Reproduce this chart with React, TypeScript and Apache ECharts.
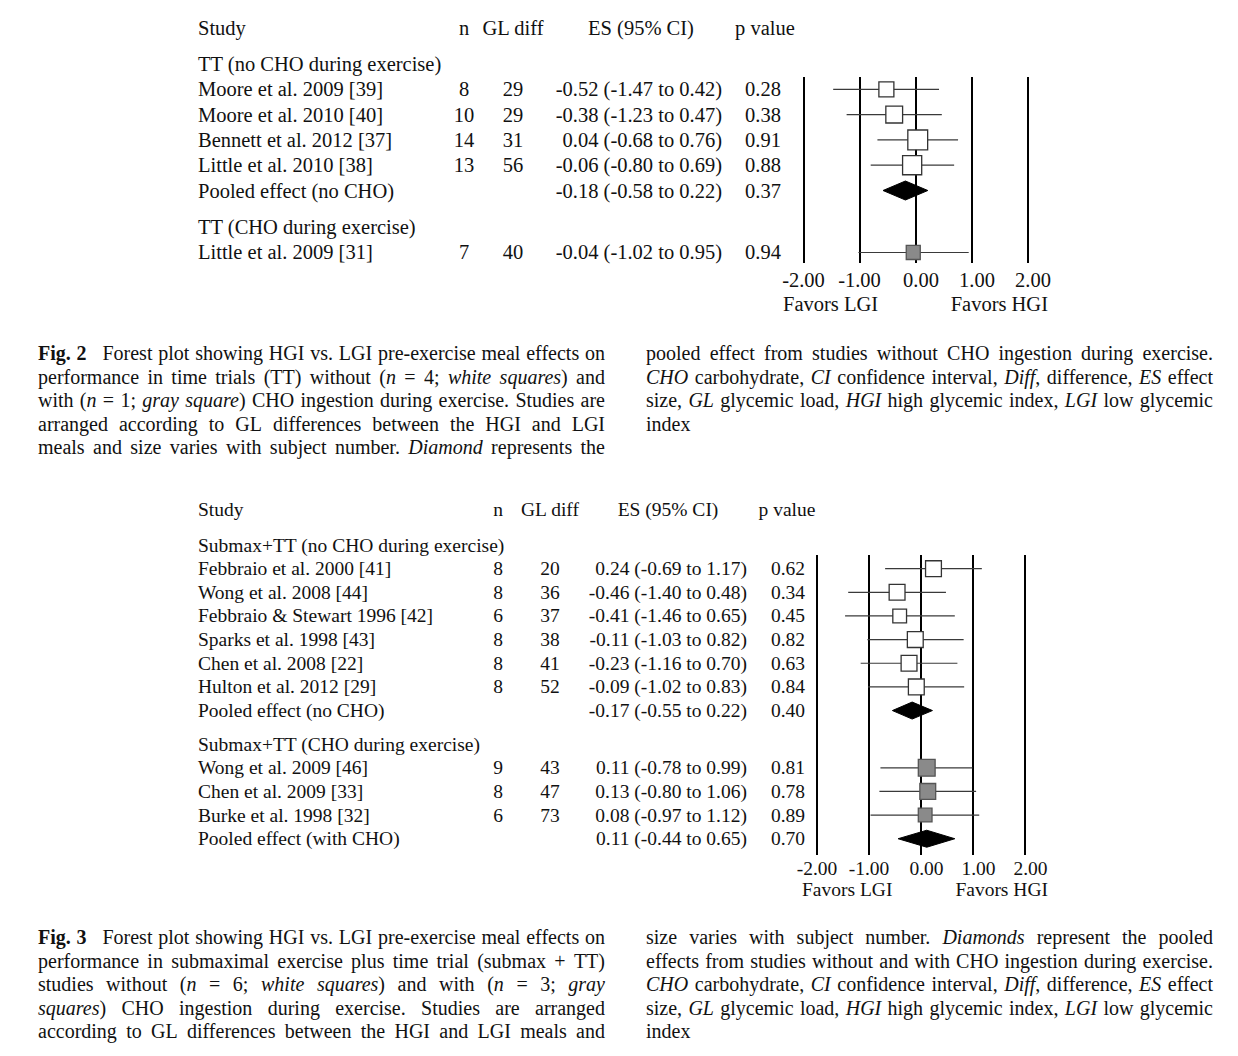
import React, { useEffect, useRef } from 'react';
import * as echarts from 'echarts';

const FONT = '"Liberation Serif", "Times New Roman", serif';
const INK = '#111';

// ---------- Fig. 2 data ----------
const fig2Columns = ['Study', 'n', 'GL diff', 'ES (95% CI)', 'p value'];
const fig2Sections = ['TT (no CHO during exercise)', 'TT (CHO during exercise)'];
const fig2Studies = [
  'Moore et al. 2009 [39]',
  'Moore et al. 2010 [40]',
  'Bennett et al. 2012 [37]',
  'Little et al. 2010 [38]',
  'Pooled effect (no CHO)',
  'Little et al. 2009 [31]',
];
const fig2SectionOf = [0, 0, 0, 0, 0, 1];
const fig2Kind = ['white', 'white', 'white', 'white', 'pooled', 'gray'];
const fig2N = [8, 10, 14, 13, null, 7];
const fig2GL = [29, 29, 31, 56, null, 40];
const fig2ES = [-0.52, -0.38, 0.04, -0.06, -0.18, -0.04];
const fig2Lo = [-1.47, -1.23, -0.68, -0.8, -0.58, -1.02];
const fig2Hi = [0.42, 0.47, 0.76, 0.69, 0.22, 0.95];
const fig2P = [0.28, 0.38, 0.91, 0.88, 0.37, 0.94];

// ---------- Fig. 3 data ----------
const fig3Columns = ['Study', 'n', 'GL diff', 'ES (95% CI)', 'p value'];
const fig3Sections = ['Submax+TT (no CHO during exercise)', 'Submax+TT (CHO during exercise)'];
const fig3Studies = [
  'Febbraio et al. 2000 [41]',
  'Wong et al. 2008 [44]',
  'Febbraio & Stewart 1996 [42]',
  'Sparks et al. 1998 [43]',
  'Chen et al. 2008 [22]',
  'Hulton et al. 2012 [29]',
  'Pooled effect (no CHO)',
  'Wong et al. 2009 [46]',
  'Chen et al. 2009 [33]',
  'Burke et al. 1998 [32]',
  'Pooled effect (with CHO)',
];
const fig3SectionOf = [0, 0, 0, 0, 0, 0, 0, 1, 1, 1, 1];
const fig3Kind = ['white', 'white', 'white', 'white', 'white', 'white', 'pooled', 'gray', 'gray', 'gray', 'pooled'];
const fig3N = [8, 8, 6, 8, 8, 8, null, 9, 8, 6, null];
const fig3GL = [20, 36, 37, 38, 41, 52, null, 43, 47, 73, null];
const fig3ES = [0.24, -0.46, -0.41, -0.11, -0.23, -0.09, -0.17, 0.11, 0.13, 0.08, 0.11];
const fig3Lo = [-0.69, -1.4, -1.46, -1.03, -1.16, -1.02, -0.55, -0.78, -0.8, -0.97, -0.44];
const fig3Hi = [1.17, 0.48, 0.65, 0.82, 0.7, 0.83, 0.22, 0.99, 1.06, 1.12, 0.65];
const fig3P = [0.62, 0.34, 0.45, 0.82, 0.63, 0.84, 0.4, 0.81, 0.78, 0.89, 0.7];

const esAxisMin = -2;
const esAxisMax = 2;
const esAxisStep = 1;
const favorsLabels = ['Favors LGI', 'Favors HGI'];

// ---------- captions ----------
const fig2CaptionLeft = [
  '**Fig.** **2\u2002** Forest plot showing HGI vs. LGI pre-exercise meal effects on',
  'performance in time trials (TT) without (*n* = 4; *white* *squares*) and',
  'with (*n* = 1; *gray* *square*) CHO ingestion during exercise. Studies are',
  'arranged according to GL differences between the HGI and LGI',
  'meals and size varies with subject number. *Diamond* represents the',
];
const fig2CaptionRight = [
  'pooled effect from studies without CHO ingestion during exercise.',
  '*CHO* carbohydrate, *CI* confidence interval, *Diff*, difference, *ES* effect',
  'size, *GL* glycemic load, *HGI* high glycemic index, *LGI* low glycemic',
  'index',
];
const fig3CaptionLeft = [
  '**Fig.** **3\u2002** Forest plot showing HGI vs. LGI pre-exercise meal effects on',
  'performance in submaximal exercise plus time trial (submax + TT)',
  'studies without (*n* = 6; *white* *squares*) and with (*n* = 3; *gray*',
  '*squares*) CHO ingestion during exercise. Studies are arranged',
  'according to GL differences between the HGI and LGI meals and',
];
const fig3CaptionRight = [
  'size varies with subject number. *Diamonds* represent the pooled',
  'effects from studies without and with CHO ingestion during exercise.',
  '*CHO* carbohydrate, *CI* confidence interval, *Diff*, difference, *ES* effect',
  'size, *GL* glycemic load, *HGI* high glycemic index, *LGI* low glycemic',
  'index',
];

// ---------- layout (pixels) ----------
const layout2 = {
  rowY0: 64, pitch: 25.3, sectionGap: 0.45, headGap: 0.42,
  gridLeft: 803.5, gridRight: 1027.5, gridTop: 77, gridBottom: 263,
  fontSize: 20.5,
  colStudy: 198, colN: 464, colGL: 513, colESRight: 722, colESHead: 641, colP: 763, colPHead: 765,
  sq: 5.3, diamondH: 19, labelMargin: 6,
  favorsY: 304, favorsLeft: 783, favorsRight: 1048,
};
const layout3 = {
  rowY0: 545, pitch: 23.65, sectionGap: 0.42, headGap: 0.48,
  gridLeft: 817, gridRight: 1025, gridTop: 555, gridBottom: 855,
  fontSize: 19.5,
  colStudy: 198, colN: 498, colGL: 550, colESRight: 747, colESHead: 668, colP: 788, colPHead: 787,
  sq: 5.6, diamondH: 17, labelMargin: 3,
  favorsY: 889, favorsLeft: 802, favorsRight: 1048,
};
const CAP_SIZE = 20;
const CAP_PITCH = 23.5;

type Fig = {
  columns: string[]; sections: string[]; studies: string[]; sectionOf: number[]; kind: string[];
  n: (number | null)[]; gl: (number | null)[]; es: number[]; lo: number[]; hi: number[]; p: number[];
  L: typeof layout2;
};

const fig2: Fig = {
  columns: fig2Columns, sections: fig2Sections, studies: fig2Studies, sectionOf: fig2SectionOf, kind: fig2Kind,
  n: fig2N, gl: fig2GL, es: fig2ES, lo: fig2Lo, hi: fig2Hi, p: fig2P, L: layout2,
};
const fig3: Fig = {
  columns: fig3Columns, sections: fig3Sections, studies: fig3Studies, sectionOf: fig3SectionOf, kind: fig3Kind,
  n: fig3N, gl: fig3GL, es: fig3ES, lo: fig3Lo, hi: fig3Hi, p: fig3P, L: layout3 as any,
};

function rowPositions(sectionOf: number[], gap: number) {
  const secK: number[] = [];
  const studyK: number[] = [];
  let k = 0;
  let cur = -1;
  sectionOf.forEach((s) => {
    if (s !== cur) {
      if (cur >= 0) k += 1 + gap;
      secK[s] = k;
      cur = s;
    }
    k += 1;
    studyK.push(k);
  });
  return { secK, studyK };
}

function textEl(x: number, y: number, text: string, size: number, align: string, extra: any = {}) {
  return {
    type: 'text',
    x,
    y,
    silent: true,
    style: {
      text,
      fill: INK,
      fontSize: size,
      fontFamily: FONT,
      fontStyle: extra.italic ? 'italic' : 'normal',
      fontWeight: extra.bold ? 'bold' : 'normal',
      align,
      textAlign: align,
      verticalAlign: 'middle',
      textVerticalAlign: 'middle',
    },
  };
}

function buildFigure(f: Fig, gi: number) {
  const L = f.L;
  const { secK, studyK } = rowPositions(f.sectionOf, L.sectionGap);
  const fmt = (v: number) => v.toFixed(2);

  type Cell = { text: string; x: number; align: string };
  const rows: { k: number; cells: Cell[] }[] = [];
  rows.push({
    k: -(1 + L.headGap),
    cells: [
      { text: f.columns[0], x: L.colStudy, align: 'left' },
      { text: f.columns[1], x: L.colN, align: 'center' },
      { text: f.columns[2], x: L.colGL, align: 'center' },
      { text: f.columns[3], x: L.colESHead, align: 'center' },
      { text: f.columns[4], x: L.colPHead, align: 'center' },
    ],
  });
  f.sections.forEach((s, i) => rows.push({ k: secK[i], cells: [{ text: s, x: L.colStudy, align: 'left' }] }));
  f.studies.forEach((s, i) => {
    const cells: Cell[] = [{ text: s, x: L.colStudy, align: 'left' }];
    if (f.n[i] != null) cells.push({ text: String(f.n[i]), x: L.colN, align: 'center' });
    if (f.gl[i] != null) cells.push({ text: String(f.gl[i]), x: L.colGL, align: 'center' });
    cells.push({ text: `${fmt(f.es[i])} (${fmt(f.lo[i])} to ${fmt(f.hi[i])})`, x: L.colESRight, align: 'right' });
    cells.push({ text: fmt(f.p[i]), x: L.colP, align: 'center' });
    rows.push({ k: studyK[i], cells });
  });

  const grid = {
    left: L.gridLeft,
    top: L.gridTop,
    width: L.gridRight - L.gridLeft,
    height: L.gridBottom - L.gridTop,
    outerBoundsMode: 'none',
  };
  const xAxis = {
    gridIndex: gi,
    type: 'value',
    min: esAxisMin,
    max: esAxisMax,
    interval: esAxisStep,
    axisLine: { show: false },
    axisTick: { show: false },
    splitLine: { show: true, lineStyle: { color: '#000', width: 2 } },
    axisLabel: {
      show: true,
      margin: L.labelMargin,
      showMinLabel: true,
      showMaxLabel: true,
      hideOverlap: false,
      formatter: (v: number) => (v < 0 ? `{neg|${v.toFixed(2)}}` : `{pos|${v.toFixed(2)}}`),
      rich: {
        neg: { fontSize: L.fontSize, fontFamily: FONT, color: INK },
        pos: { fontSize: L.fontSize, fontFamily: FONT, color: INK, padding: [0, 0, 0, 11] },
      },
    },
  };
  const yAxis = {
    gridIndex: gi,
    type: 'value',
    inverse: true,
    min: (L.gridTop - L.rowY0) / L.pitch,
    max: (L.gridBottom - L.rowY0) / L.pitch,
    show: false,
    splitLine: { show: false },
  };

  const tableSeries = {
    type: 'custom',
    xAxisIndex: gi,
    yAxisIndex: gi,
    clip: false,
    silent: true,
    data: rows.map((r) => [0, r.k]),
    encode: { x: 0, y: 1 },
    renderItem: (params: any, api: any) => {
      const r = rows[params.dataIndex];
      const y = api.coord([0, r.k])[1];
      return {
        type: 'group',
        children: r.cells.map((c) => textEl(c.x, y, c.text, L.fontSize, c.align)),
      };
    },
  };

  const markSeries = {
    type: 'custom',
    xAxisIndex: gi,
    yAxisIndex: gi,
    clip: false,
    silent: true,
    data: f.studies.map((_, i) => [f.es[i], studyK[i]]),
    encode: { x: 0, y: 1 },
    renderItem: (params: any, api: any) => {
      const i = params.dataIndex;
      const k = studyK[i];
      const [cx, cy] = api.coord([f.es[i], k]);
      const xl = api.coord([f.lo[i], k])[0];
      const xh = api.coord([f.hi[i], k])[0];
      if (f.kind[i] === 'pooled') {
        const h = L.diamondH / 2;
        return {
          type: 'polygon',
          shape: { points: [[xl, cy], [cx, cy - h], [xh, cy], [cx, cy + h]] },
          style: { fill: '#000', stroke: '#000', lineWidth: 1 },
        };
      }
      const s = L.sq * Math.sqrt(f.n[i] as number);
      const gray = f.kind[i] === 'gray';
      return {
        type: 'group',
        children: [
          {
            type: 'line',
            shape: { x1: xl, y1: cy, x2: xh, y2: cy },
            style: { stroke: '#3a3a3a', lineWidth: 1.2 },
          },
          {
            type: 'rect',
            shape: { x: cx - s / 2, y: cy - s / 2, width: s, height: s },
            style: {
              fill: gray ? '#8a8a8a' : '#fff',
              stroke: gray ? '#555' : '#333',
              lineWidth: 1.3,
            },
          },
        ],
      };
    },
  };

  const graphics = [
    textEl(L.favorsLeft, L.favorsY, favorsLabels[0], L.fontSize, 'left'),
    textEl(L.favorsRight, L.favorsY, favorsLabels[1], L.fontSize, 'right'),
  ];

  return { grid, xAxis, yAxis, series: [tableSeries, markSeries], graphics };
}

// ---------- caption layout ----------
let measureCtx: CanvasRenderingContext2D | null = null;
function measure(text: string, italic: boolean, bold: boolean, size: number) {
  if (!measureCtx) measureCtx = document.createElement('canvas').getContext('2d');
  const ctx = measureCtx as CanvasRenderingContext2D;
  ctx.font = `${italic ? 'italic ' : ''}${bold ? 'bold ' : ''}${size}px ${FONT}`;
  return ctx.measureText(text).width;
}

function parseToken(tok: string) {
  const segs: { t: string; b: boolean; i: boolean }[] = [];
  const re = /\*\*(.+?)\*\*|\*(.+?)\*|([^*]+)/g;
  let m: RegExpExecArray | null;
  while ((m = re.exec(tok))) {
    if (m[1] !== undefined) segs.push({ t: m[1], b: true, i: false });
    else if (m[2] !== undefined) segs.push({ t: m[2], b: false, i: true });
    else segs.push({ t: m[3], b: false, i: false });
  }
  return segs;
}

function captionElements(lines: string[], left: number, right: number, y0: number, lastFlush: boolean) {
  const els: any[] = [];
  lines.forEach((line, li) => {
    const words = line.split(' ').map(parseToken);
    const widths = words.map((w) => w.reduce((s, g) => s + measure(g.t, g.i, g.b, CAP_SIZE), 0));
    const total = widths.reduce((a, b) => a + b, 0);
    const isLast = li === lines.length - 1 && lastFlush;
    const gap =
      isLast || words.length < 2 ? measure(' ', false, false, CAP_SIZE) : (right - left - total) / (words.length - 1);
    const y = y0 + li * CAP_PITCH;
    let x = left;
    words.forEach((w, wi) => {
      let sx = x;
      w.forEach((g) => {
        els.push(textEl(sx, y, g.t, CAP_SIZE, 'left', { italic: g.i, bold: g.b }));
        sx += measure(g.t, g.i, g.b, CAP_SIZE);
      });
      x += widths[wi] + gap;
    });
  });
  return els;
}

export default function App() {
  const ref = useRef<HTMLDivElement>(null);
  useEffect(() => {
    if (!ref.current) return;
    const chart = echarts.init(ref.current, undefined, { renderer: 'svg' });
    const a = buildFigure(fig2, 0);
    const b = buildFigure(fig3, 1);
    const captions = [
      ...captionElements(fig2CaptionLeft, 38, 605, 353, false),
      ...captionElements(fig2CaptionRight, 646, 1213, 353, true),
      ...captionElements(fig3CaptionLeft, 38, 605, 937, false),
      ...captionElements(fig3CaptionRight, 646, 1213, 937, true),
    ];
    chart.setOption({
      animation: false,
      backgroundColor: '#fff',
      grid: [a.grid, b.grid],
      xAxis: [a.xAxis, b.xAxis],
      yAxis: [a.yAxis, b.yAxis],
      series: [...a.series, ...b.series],
      graphic: { elements: [...a.graphics, ...b.graphics, ...captions] },
    });
    return () => chart.dispose();
  }, []);
  return (
    <div
      ref={ref}
      style={{ position: 'absolute', left: 0, top: 0, width: 1238, height: 1056, background: '#fff' }}
    />
  );
}
